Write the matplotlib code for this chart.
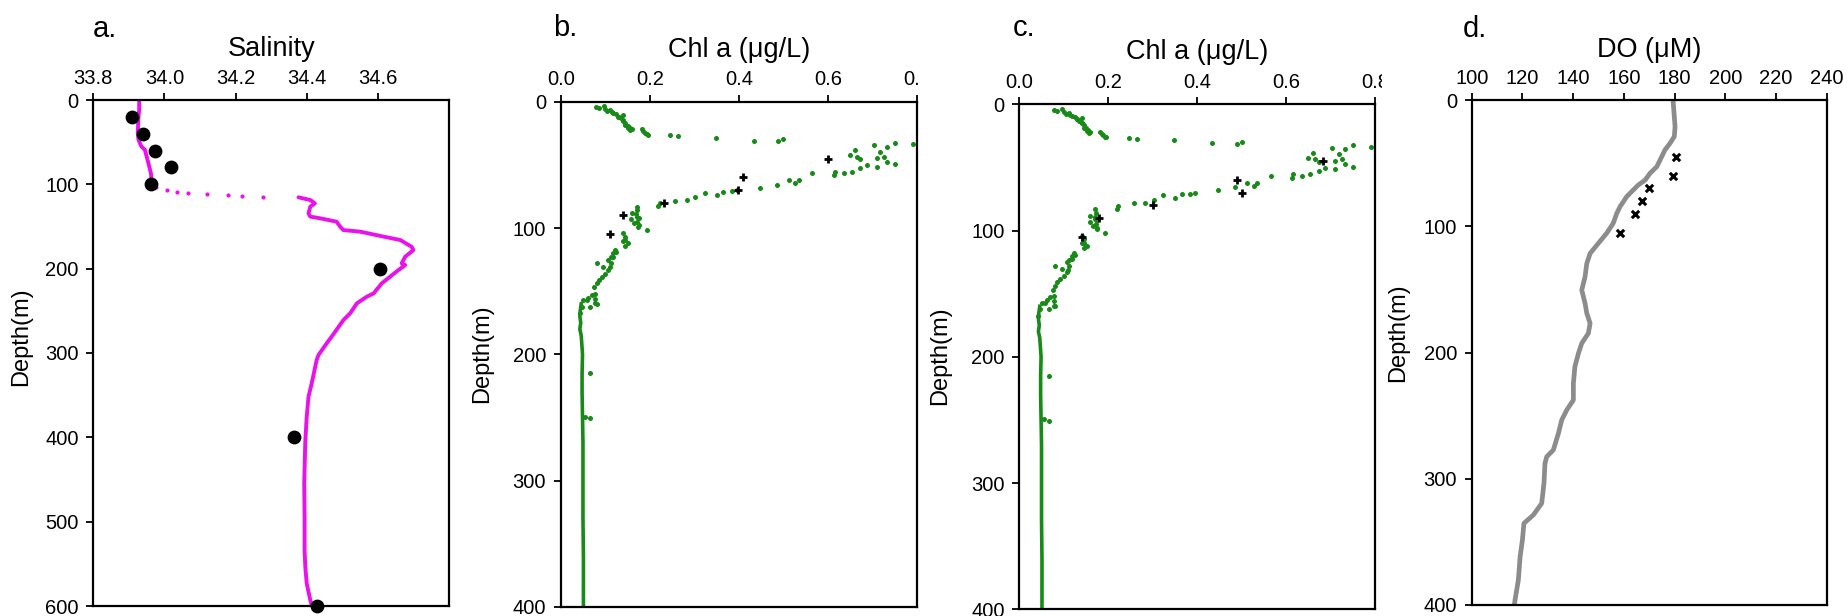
import matplotlib
matplotlib.use("Agg")
import matplotlib.pyplot as plt
from matplotlib.patches import Rectangle

plt.rcParams['font.family'] = ['Liberation Sans', 'DejaVu Sans']

W, H = 1847, 616

# ---- panel a: salinity ----
sal_depth = [2, 12, 20, 30, 39.5, 47, 55, 59, 67, 75, 87, 97, 104]
sal_value = [33.929, 33.929, 33.927, 33.926, 33.925, 33.927, 33.935, 33.945,
             33.950, 33.955, 33.962, 33.964, 33.978]
sal_gap_depth = [106.7, 108.7, 109.9, 111.5, 112.6, 113.4, 114.6]
sal_gap_value = [34.006, 34.034, 34.067, 34.119, 34.180, 34.217, 34.278]
sal_deep_depth = [115.4, 118.6, 122.5, 126.5, 134.4, 138.3, 140.3, 144.3, 150.2,
                  154.2, 156.1, 162, 166, 174, 177.9, 185.8, 193.7, 195.7, 201.6,
                  217.4, 229.3, 233.2, 241.1, 253, 261, 280.7, 288.6, 302.4,
                  308.3, 336, 351.8, 375.5, 405, 454.6, 494, 533.7, 553.4,
                  573.2, 593, 599]
sal_deep_value = [34.377, 34.410, 34.423, 34.410, 34.405, 34.410, 34.438, 34.484,
                  34.494, 34.503, 34.550, 34.616, 34.663, 34.695, 34.700, 34.677,
                  34.667, 34.677, 34.658, 34.611, 34.588, 34.569, 34.541, 34.522,
                  34.503, 34.470, 34.456, 34.433, 34.428, 34.414, 34.405, 34.400,
                  34.396, 34.393, 34.394, 34.394, 34.396, 34.400, 34.410, 34.414]
bottle_depth = [20, 40, 60, 80, 100, 200, 400, 600]
bottle_sal = [33.910, 33.939, 33.974, 34.018, 33.962, 34.606, 34.363, 34.428]

# ---- panels b/c: chl a profile (same CTD cast) ----
chl_depth = [4.4, 3.4, 5, 6, 6.6, 7.5, 8.5, 9.2, 10, 10.5, 11.8, 12, 13, 14.5, 15,
             16.5, 18.4, 19, 20.5, 21, 22, 22.4, 21.9, 23.5, 24.5, 25.8, 26,
             26.4, 27.2, 28.5, 30.9, 31.1, 29.5, 33.5,
             32.4, 35.6, 34.3, 39.6, 43.5, 44.8, 47.5, 49.3, 38.2, 42.2, 43.5,
             45.6, 50.1, 51.4, 52.7, 55.4, 56.7, 55.4, 58, 56.7, 62, 64.6, 62,
             65.9, 68.1, 69.9, 70.7, 71.2, 73.9, 72, 75.7, 77.8, 78.3, 80.5,
             82.6, 83.1, 86, 89, 91, 92, 95, 98, 98.9, 101.6, 88.4, 93, 96,
             104.2, 107, 109.5, 110, 112.1, 114, 117.4, 120, 119, 122.7, 123,
             125.3, 128, 131, 133.2, 130.6, 128, 138.5, 136, 141, 143.8, 147,
             152, 156, 153, 159.6, 157, 155, 162.3, 167.5, 157, 160, 162.3,
             215, 250.6, 249.3]
chl_value = [0.079, 0.097, 0.085, 0.100, 0.111, 0.105, 0.115, 0.118, 0.125, 0.141,
             0.129, 0.130, 0.135, 0.141, 0.140, 0.145, 0.145, 0.150, 0.155,
             0.152, 0.160, 0.156, 0.182, 0.185, 0.189, 0.193, 0.195, 0.246,
             0.264, 0.348, 0.434, 0.489, 0.500, 0.792,
             0.751, 0.733, 0.703, 0.718, 0.725, 0.710, 0.733, 0.751, 0.661,
             0.650, 0.665, 0.673, 0.688, 0.710, 0.673, 0.654, 0.635, 0.616,
             0.613, 0.565, 0.534, 0.527, 0.512, 0.485, 0.448, 0.396, 0.384,
             0.365, 0.351, 0.324, 0.302, 0.283, 0.257, 0.223, 0.219, 0.171,
             0.172, 0.170, 0.171, 0.175, 0.172, 0.175, 0.174, 0.193, 0.160,
             0.158, 0.165, 0.141, 0.145, 0.145, 0.140, 0.152, 0.145, 0.122,
             0.118, 0.125, 0.118, 0.112, 0.107, 0.112, 0.110, 0.107, 0.096,
             0.081, 0.092, 0.100, 0.085, 0.081, 0.075, 0.078, 0.077, 0.070,
             0.077, 0.058, 0.062, 0.047, 0.043, 0.051, 0.081, 0.066, 0.066,
             0.066, 0.055]
chl_deep_depth = [160, 165, 170, 175, 180, 185, 190, 200, 215, 230, 250, 270,
                  300, 330, 360, 400]
chl_deep_value = [0.046, 0.044, 0.043, 0.045, 0.043, 0.046, 0.047, 0.049, 0.048,
                  0.048, 0.049, 0.050, 0.050, 0.050, 0.051, 0.051]
b_cross_depth = [45, 60, 70, 80, 90, 105]
b_cross_chl = [0.601, 0.410, 0.399, 0.231, 0.141, 0.111]
c_cross_depth = [45, 60, 70, 80, 90, 105]
c_cross_chl = [0.682, 0.490, 0.500, 0.300, 0.180, 0.140]

# ---- panel d: dissolved oxygen ----
do_depth = [2.6, 10.6, 21.1, 29, 34.3, 39.6, 47.5, 52.8, 58.1, 63.4, 67.3, 71.3,
            76.6, 84.5, 89.8, 97.7, 105.6, 113.6, 121.5, 129.4, 140, 150.5, 161,
            169, 176.9, 184.8, 192.7, 200.6, 211.2, 224.4, 237.6, 245.5, 253.5,
            264, 277.2, 282.5, 287.8, 303.6, 319.5, 328.7, 335.3, 348.5, 361.7,
            380.2, 396, 400]
do_value = [179.5, 179.8, 180.2, 179.9, 178.2, 176.2, 174.3, 173.0, 170.3, 168.4,
            165.7, 163.7, 161.1, 158.5, 157.2, 155.8, 153.2, 149.9, 146.7, 145.4,
            144.7, 143.4, 144.7, 145.4, 146.7, 146.0, 143.4, 142.1, 140.7, 140.1,
            140.1, 137.5, 135.5, 134.2, 132.2, 129.6, 128.9, 128.5, 127.6, 124.3,
            120.6, 120.0, 119.1, 118.4, 117.1, 116.8]
do_bottle_depth = [45, 60, 70, 80, 90, 105]
do_bottle_value = [180.6, 179.3, 170.0, 167.3, 164.4, 158.5]

MAGENTA = "#ea12ea"
GREEN = "#178a17"
GREY = "#8c8c8c"

fig = plt.figure(figsize=(W / 100, H / 100), dpi=100)


def px_axes(left, top, right, bottom):
    return fig.add_axes([left / W, 1 - bottom / H, (right - left) / W, (bottom - top) / H])


def style(ax, xlabel, xlab_y, ylab_x, ylab_y):
    ax.xaxis.tick_top()
    ax.xaxis.set_label_position('top')
    ax.tick_params(axis='both', direction='out', length=5, width=1.3,
                   labelsize=14.5, right=False, bottom=False)
    ax.tick_params(axis='x', pad=4)
    ax.tick_params(axis='y', pad=5.5)
    for sp in ax.spines.values():
        sp.set_linewidth(1.6)
    ax.set_xlabel(xlabel, fontsize=19.5)
    ax.xaxis.set_label_coords(0.5, xlab_y)
    ax.set_ylabel('Depth(m)', fontsize=17, va='center')
    ax.yaxis.set_label_coords(ylab_x, ylab_y)


# a
ax1 = px_axes(93.3, 100, 449, 606)
ax1.plot(sal_value, sal_depth, color=MAGENTA, lw=2.8, solid_capstyle='round')
ax1.scatter(sal_gap_value, sal_gap_depth, s=9, color=MAGENTA, lw=0)
ax1.plot(sal_deep_value, sal_deep_depth, color=MAGENTA, lw=2.8, solid_capstyle='round')
ax1.scatter(bottle_sal, bottle_depth, s=80, color='black', zorder=5, clip_on=False)
ax1.set_xlim(33.8, 34.8)
ax1.set_ylim(600, 0)
ax1.set_xticks([33.8, 34.0, 34.2, 34.4, 34.6])
ax1.set_xticklabels(["33.8", "34.0", "34.2", "34.4", "34.6"])
ax1.set_yticks(range(0, 601, 100))
style(ax1, 'Salinity', 1.087, -0.203, 0.532)

# b and c
for (l, t, r, b, cx, cz, xly, ylx, yly) in [
        (560.7, 101.7, 917, 607, b_cross_chl, b_cross_depth, 1.0885, -0.221, 0.501),
        (1019.3, 104.3, 1375, 609.3, c_cross_chl, c_cross_depth, 1.089, -0.223, 0.502)]:
    ax = px_axes(l, t, r, b)
    ax.plot(chl_deep_value, chl_deep_depth, color=GREEN, lw=2.6)
    ax.scatter(chl_value, chl_depth, s=13, color=GREEN, lw=0, clip_on=False)
    ax.scatter(cx, cz, s=34, marker='+', color='black', lw=2, zorder=5)
    ax.set_xlim(0, 0.8)
    ax.set_ylim(400, 0)
    ax.set_xticks([0, 0.2, 0.4, 0.6, 0.8])
    ax.set_xticklabels(["0.0", "0.2", "0.4", "0.6", "0.8"])
    ax.set_yticks(range(0, 401, 100))
    style(ax, 'Chl a (\u03bcg/L)', xly, ylx, yly)

# d
ax4 = px_axes(1471.7, 100, 1826.7, 605)
ax4.plot(do_value, do_depth, color=GREY, lw=3.4)
ax4.scatter(do_bottle_value, do_bottle_depth, s=28, marker='x', color='black', lw=2.2, zorder=5)
ax4.set_xlim(100, 240)
ax4.set_ylim(400, 0)
ax4.set_xticks(range(100, 241, 20))
ax4.set_yticks(range(0, 401, 100))
style(ax4, 'DO (\u03bcM)', 1.0846, -0.2076, 0.5386)

# panel letters
for x, yb, s in [(93, 36.7, 'a.'), (553, 36, 'b.'), (1013, 36, 'c.'), (1463, 36.7, 'd.')]:
    fig.text(x / W, 1 - yb / H, s, fontsize=21, ha='left', va='baseline')

# the "0.8" labels are cut off in the original layout
for x0, x1 in [(920, 936), (1382, 1396)]:
    fig.add_artist(Rectangle((x0 / W, 1 - 95 / H), (x1 - x0) / W, 40 / H,
                             transform=fig.transFigure, facecolor='white',
                             edgecolor='none', zorder=10))

fig.savefig("out.png", dpi=100, facecolor='white')
